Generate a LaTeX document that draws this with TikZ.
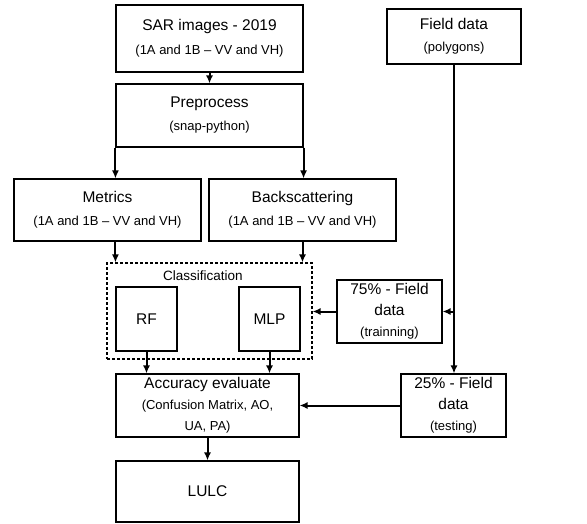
\documentclass[tikz,border=0pt]{standalone}
\usepackage{fontspec}
\setmainfont{Liberation Sans}
\usetikzlibrary{arrows.meta}
\newcommand{\bigf}{\fontsize{15.5}{21}\selectfont}
\newcommand{\subf}{\fontsize{13}{20}\selectfont}
\tikzset{
  box/.style={draw, line width=1.1pt, align=center, inner sep=0pt, font=\bigf},
  arr/.style={line width=2pt, -{Latex[length=8pt,width=7pt]}},
  clsbox/.style={draw, line width=1.1pt, dash pattern=on 3pt off 2pt, inner sep=0pt}
}
\begin{document}
\begin{tikzpicture}[x=1pt,y=-1pt]
\useasboundingbox[fill=white] (0,0) rectangle (587,523);
\node[box, minimum width=187pt, minimum height=67pt] (sar) at (209.5,38.5)
  {SAR images - 2019\\[3pt]{\subf (1A and 1B – VV and VH)}};
\node[box, minimum width=134pt, minimum height=55pt] (field) at (454,36.5)
  {Field data\\[1pt]{\subf (polygons)}};
\node[box, minimum width=187pt, minimum height=63pt] (pre) at (209.5,115.5)
  {Preprocess\\[2pt]{\subf (snap-python)}};
\node[box, minimum width=187pt, minimum height=62pt] (met) at (107.5,210)
  {Metrics\\[2pt]{\subf (1A and 1B – VV and VH)}};
\node[box, minimum width=187pt, minimum height=62pt] (back) at (302.5,210)
  {Backscattering\\[2pt]{\subf (1A and 1B – VV and VH)}};
\node[clsbox, minimum width=205pt, minimum height=96pt] (cls) at (209.5,311) {};
\node[font=\fontsize{13.5}{16}\selectfont, inner sep=0pt] (clslabel) at (203,276) {Classification};
\node[box, minimum width=61pt, minimum height=64pt] (rf) at (146.5,319) {RF};
\node[box, minimum width=61pt, minimum height=64pt] (mlp) at (269.5,319) {MLP};
\node[box, minimum width=105pt, minimum height=63pt, font=\fontsize{15.5}{20}\selectfont] (t75) at (389.5,311.5)
  {75\% - Field\\[1pt]data\\[1pt]{\subf (trainning)}};
\node[box, minimum width=183pt, minimum height=63pt, font=\fontsize{15.5}{20}\selectfont] (acc) at (207.5,405.5)
  {Accuracy evaluate\\[1pt]{\subf (Confusion Matrix, AO,}\\[1pt]{\subf UA, PA)}};
\node[box, minimum width=105pt, minimum height=63pt, font=\fontsize{15.5}{20}\selectfont] (t25) at (453.5,405.5)
  {25\% - Field\\[1pt]data\\[1pt]{\subf (testing)}};
\node[box, minimum width=183pt, minimum height=61pt] (lulc) at (207.5,491.5) {LULC};

\draw[arr] (sar) -- (pre);
\draw[arr] (pre.south west) -- (pre.south west |- met.north);
\draw[arr] (pre.south east) -- (pre.south east |- back.north);
\draw[arr] (pre.south west |- met.south) -- (pre.south west |- cls.north);
\draw[arr] (back.south) -- (back.south |- cls.north);
\draw[arr] (field.south) -- (field.south |- t25.north);
\coordinate (branch) at (field.south |- t75.east);
\draw[arr] (branch) -- (t75.east);
\draw[arr] (t75.west) -- (cls.east |- t75.west);
\draw[arr] (rf.south) -- (rf.south |- acc.north);
\draw[arr] (mlp.south) -- (mlp.south |- acc.north);
\draw[arr] (t25.west) -- (acc.east |- t25.west);
\draw[arr] (acc) -- (lulc);
\end{tikzpicture}
\end{document}
